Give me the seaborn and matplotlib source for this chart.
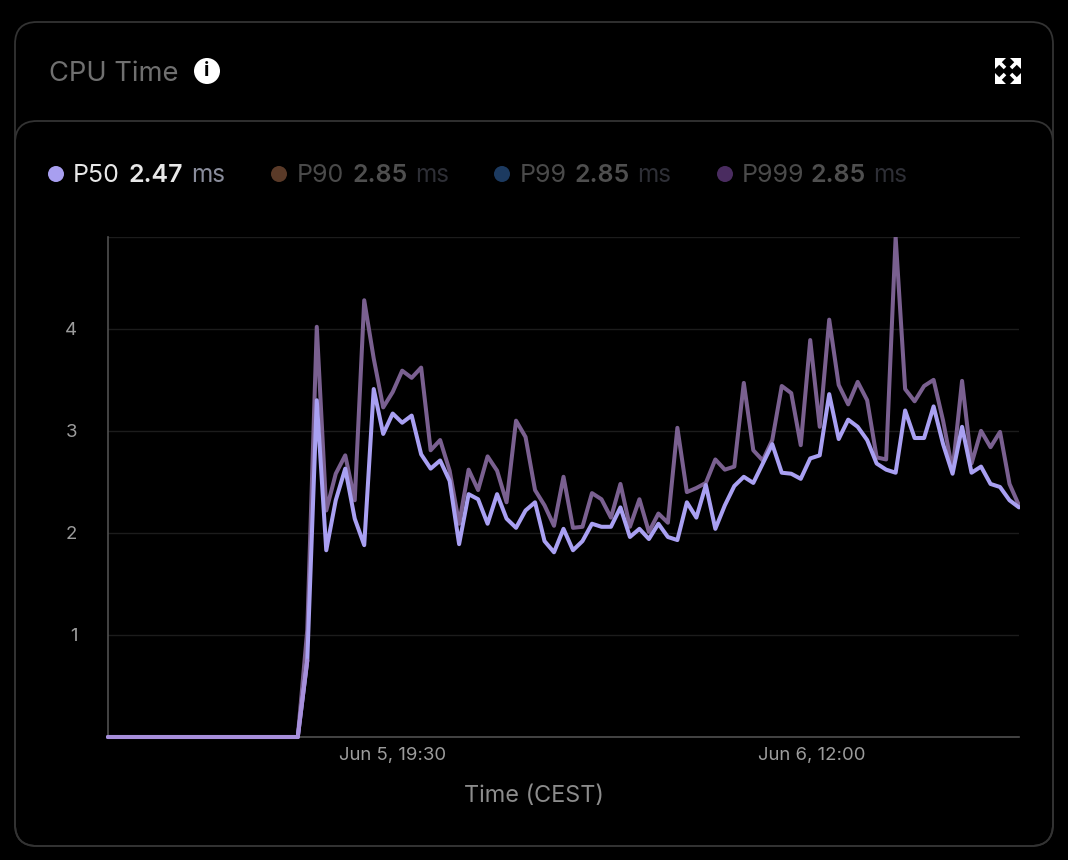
import matplotlib
matplotlib.use("Agg")
import matplotlib.pyplot as plt
import pandas as pd
import seaborn as sns
from matplotlib.patches import Circle, FancyBboxPatch, Polygon, Rectangle

# values, one sample every 22.4 min
p50 = [0] * 21 + [
    0.75, 3.30, 1.83, 2.32, 2.63, 2.14, 1.88, 3.41, 2.97, 3.17,
    3.08, 3.15, 2.77, 2.63, 2.71, 2.51, 1.89, 2.38, 2.33, 2.09,
    2.38, 2.14, 2.05, 2.22, 2.30, 1.92, 1.81, 2.04, 1.83, 1.92,
    2.09, 2.06, 2.06, 2.25, 1.96, 2.04, 1.94, 2.09, 1.96, 1.93,
    2.30, 2.15, 2.47, 2.04, 2.27, 2.46, 2.55, 2.49, 2.68, 2.87,
    2.59, 2.58, 2.53, 2.73, 2.76, 3.36, 2.92, 3.11, 3.04, 2.91,
    2.68, 2.62, 2.59, 3.20, 2.93, 2.93, 3.24, 2.87, 2.58, 3.04,
    2.59, 2.65, 2.48, 2.45, 2.32, 2.25]
p999 = [0] * 21 + [
    1.05, 4.02, 2.22, 2.58, 2.76, 2.32, 4.28, 3.71, 3.23, 3.38,
    3.59, 3.52, 3.62, 2.81, 2.91, 2.61, 2.09, 2.62, 2.42, 2.75,
    2.61, 2.30, 3.10, 2.94, 2.42, 2.27, 2.07, 2.55, 2.05, 2.06,
    2.39, 2.33, 2.15, 2.48, 2.06, 2.33, 2.01, 2.19, 2.10, 3.03,
    2.40, 2.44, 2.49, 2.72, 2.62, 2.65, 3.47, 2.81, 2.71, 2.91,
    3.44, 3.37, 2.86, 3.89, 3.04, 4.09, 3.45, 3.26, 3.48, 3.30,
    2.74, 2.72, 4.90, 3.41, 3.29, 3.44, 3.50, 3.10, 2.61, 3.49,
    2.68, 3.00, 2.84, 2.99, 2.48, 2.27]
times = pd.date_range("2024-06-05 08:19", periods=len(p50), freq="1344s")

y_ticks = [1, 2, 3, 4]
x_ticks = pd.to_datetime(["2024-06-05 19:30", "2024-06-06 12:00"])
x_tick_labels = ["Jun 5, 19:30", "Jun 6, 12:00"]

legend_names = ["P50", "P90", "P99", "P999"]
legend_values = ["2.47", "2.85", "2.85", "2.85"]

df = pd.DataFrame({"time": times, "p50": p50, "p999": p999})

sns.set_theme(style="dark")
plt.rcParams["font.family"] = ["Inter", "DejaVu Sans"]

W, H = 1068, 860
fig = plt.figure(figsize=(W / 100, H / 100), dpi=100, facecolor="#000000")

# page furniture lives on a full-figure axes in pixel coordinates
bg = fig.add_axes([0, 0, 1, 1], zorder=0)
bg.set_xlim(0, W)
bg.set_ylim(H, 0)
bg.axis("off")
for top in (22, 121):
    bg.add_patch(FancyBboxPatch((15, top), 1038, 846 - top,
                                boxstyle="round,pad=0,rounding_size=22",
                                fc="none", ec="#333333", lw=1.3))

bg.text(49, 74, "CPU Time", color="#707070", fontsize=19.7, va="center")
bg.add_patch(Circle((207, 71), 13, fc="white", ec="none"))
bg.text(207, 71.5, "i", color="black", fontsize=14, weight="bold",
        ha="center", va="center")

# expand icon
for sx, sy in [(-1, -1), (1, -1), (-1, 1), (1, 1)]:
    cx, cy = 1008 + sx * 13, 71 + sy * 13
    bg.add_patch(Polygon([(cx, cy), (cx - sx * 11, cy), (cx, cy - sy * 11)],
                         fc="white", ec="none"))
    bg.plot([cx - sx * 3, cx - sx * 10], [cy - sy * 3, cy - sy * 10],
            color="white", lw=2.6, solid_capstyle="butt")

# legend
dots = ["#a89ff0", "#5a3a28", "#1c3a60", "#4a2c60"]
dot_x = [56, 279, 502, 725]
name_x = [73, 297, 520, 742]
value_x = [128, 352, 575, 811]
unit_x = [191, 415, 637, 873]
name_c = ["#e8e8e8", "#4a4a4a", "#4a4a4a", "#4a4a4a"]
value_c = ["#e8e8e8", "#4f4f4f", "#4f4f4f", "#4f4f4f"]
unit_c = ["#8a8d9c", "#2e2f36", "#2e2f36", "#2e2f36"]
for i, name in enumerate(legend_names):
    bg.add_patch(Circle((dot_x[i], 174), 8, fc=dots[i], ec="none"))
    bg.text(name_x[i], 175, name, color=name_c[i], fontsize=18, va="center")
    bg.text(value_x[i], 175, legend_values[i], color=value_c[i], fontsize=18,
            weight="semibold", va="center")
    bg.text(unit_x[i], 175, "ms", color=unit_c[i], fontsize=17.5, va="center")

ax = fig.add_axes([108 / W, 1 - 737 / H, 911 / W, 500 / H], zorder=1)
ax.patch.set_alpha(0)

sns.lineplot(data=df, x="time", y="p999", ax=ax, color="#7a6090", lw=2.9,
             estimator=None, legend=False, zorder=3)
sns.lineplot(data=df, x="time", y="p50", ax=ax, color="#a9a0f2", lw=2.9,
             estimator=None, legend=False, zorder=3)
# the flat start reads more purple, all the series sit on top of each other
sns.lineplot(data=df.iloc[:22], x="time", y="p50", ax=ax, color="#a78fdc",
             lw=2.9, estimator=None, legend=False, zorder=3)

ax.set_xlim(times[0], times[-1])
ax.set_ylim(0, 4.9)
ax.set_yticks(y_ticks)
ax.set_yticklabels([str(v) for v in y_ticks])
ax.set_xticks(x_ticks)
ax.set_xticklabels(x_tick_labels)
ax.tick_params(axis="x", length=0, pad=7, labelsize=13.4, labelcolor="#9c9c9c")
ax.tick_params(axis="y", length=0, pad=22, labelsize=13.4, labelcolor="#9c9c9c")
ax.set_xlabel("Time (CEST)", color="#8c8c8c", fontsize=16.9)
ax.xaxis.set_label_coords((534 - 108) / 911, -48 / 500, transform=ax.transAxes)
ax.set_ylabel("")

ax.grid(False)
ax.grid(axis="y", color="#1c1c1c", lw=1)
ax.axhline(4.9, color="#1c1c1c", lw=1, zorder=0)
for side in ("top", "right"):
    ax.spines[side].set_visible(False)
for side in ("left", "bottom"):
    ax.spines[side].set_color("#505050")
    ax.spines[side].set_linewidth(1.2)

# lines run over the baseline but stop at the top of the plot
clip = Rectangle((-0.01, -0.02), 1.011, 1.02, transform=ax.transAxes)
for line in ax.get_lines():
    line.set_clip_path(clip)

fig.savefig("out.png", dpi=100, facecolor=fig.get_facecolor())
